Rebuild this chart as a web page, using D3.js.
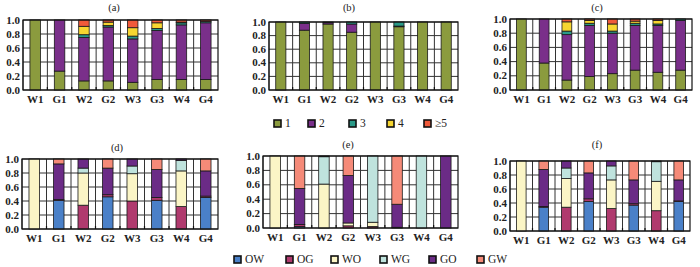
<!DOCTYPE html>
<html>
<head>
<meta charset="utf-8">
<script src="https://cdn.jsdelivr.net/npm/d3@7"></script>
<style>
body { margin:0; background:#fff; }
</style>
</head>
<body>
<svg id="chart" width="700" height="267"></svg>
<script>
var categories = ["W1","G1","W2","G2","W3","G3","W4","G4"];
var yTicks = [0, 0.2, 0.4, 0.6, 0.8, 1.0];

// top row: share of 1,2,3,4,>=5
var keysTop = ["1","2","3","4","≥5"];
var panelA = [
    [1.00, 0.00, 0.00, 0.00, 0.00],
    [0.27, 0.73, 0.00, 0.00, 0.00],
    [0.13, 0.62, 0.04, 0.12, 0.09],
    [0.13, 0.77, 0.02, 0.05, 0.03],
    [0.11, 0.62, 0.04, 0.12, 0.11],
    [0.15, 0.70, 0.03, 0.08, 0.04],
    [0.15, 0.78, 0.03, 0.01, 0.03],
    [0.15, 0.81, 0.02, 0.00, 0.02]
];
var panelB = [
    [1.00, 0.00, 0.00, 0.00, 0.00],
    [0.88, 0.10, 0.02, 0.00, 0.00],
    [0.97, 0.02, 0.01, 0.00, 0.00],
    [0.85, 0.12, 0.03, 0.00, 0.00],
    [1.00, 0.00, 0.00, 0.00, 0.00],
    [0.93, 0.01, 0.06, 0.00, 0.00],
    [1.00, 0.00, 0.00, 0.00, 0.00],
    [1.00, 0.00, 0.00, 0.00, 0.00]
];
var panelC = [
    [1.00, 0.00, 0.00, 0.00, 0.00],
    [0.38, 0.62, 0.00, 0.00, 0.00],
    [0.14, 0.64, 0.05, 0.13, 0.04],
    [0.19, 0.72, 0.03, 0.04, 0.02],
    [0.23, 0.57, 0.03, 0.10, 0.07],
    [0.28, 0.63, 0.03, 0.03, 0.03],
    [0.25, 0.66, 0.02, 0.05, 0.02],
    [0.28, 0.70, 0.02, 0.00, 0.00]
];

// bottom row: transition types
var keysBottom = ["OW","OG","WO","WG","GO","GW"];
var panelD = [
    [0.00, 0.00, 1.00, 0.00, 0.00, 0.00],
    [0.41, 0.01, 0.00, 0.00, 0.51, 0.07],
    [0.00, 0.34, 0.46, 0.07, 0.13, 0.00],
    [0.46, 0.03, 0.00, 0.00, 0.38, 0.13],
    [0.00, 0.40, 0.39, 0.11, 0.10, 0.00],
    [0.41, 0.04, 0.00, 0.00, 0.40, 0.15],
    [0.00, 0.32, 0.51, 0.15, 0.02, 0.00],
    [0.45, 0.02, 0.00, 0.00, 0.36, 0.17]
];
var panelE = [
    [0.00, 0.00, 1.00, 0.00, 0.00, 0.00],
    [0.02, 0.03, 0.00, 0.00, 0.50, 0.45],
    [0.00, 0.00, 0.61, 0.38, 0.01, 0.00],
    [0.00, 0.03, 0.04, 0.00, 0.66, 0.27],
    [0.00, 0.02, 0.06, 0.92, 0.00, 0.00],
    [0.00, 0.01, 0.00, 0.00, 0.32, 0.67],
    [0.00, 0.00, 0.00, 1.00, 0.00, 0.00],
    [0.00, 0.00, 0.00, 0.00, 1.00, 0.00]
];
var panelF = [
    [0.00, 0.00, 1.00, 0.00, 0.00, 0.00],
    [0.34, 0.01, 0.00, 0.00, 0.53, 0.12],
    [0.00, 0.34, 0.41, 0.15, 0.10, 0.00],
    [0.42, 0.04, 0.00, 0.00, 0.37, 0.17],
    [0.00, 0.32, 0.41, 0.20, 0.07, 0.00],
    [0.37, 0.02, 0.00, 0.00, 0.34, 0.27],
    [0.00, 0.29, 0.42, 0.28, 0.01, 0.00],
    [0.42, 0.01, 0.00, 0.00, 0.30, 0.27]
];

var colorsTop = ["#8b9b3e","#7a2f8a","#2a9a88","#f7d630","#f05a3a"];
var colorsBottom = ["#4a80c8","#b03a6e","#fbf5c6","#bfe3dd","#6b2b86","#f58a78"];
var FONT = "Liberation Serif";

var svg = d3.select('#chart');

// panel boxes: left, right, top, bottom
var panels = [
    {label:"(a)", data:panelA, keys:keysTop, colors:colorsTop, x0:23,  x1:218, y0:20,  y1:90,  tx:114, ty:11},
    {label:"(b)", data:panelB, keys:keysTop, colors:colorsTop, x0:269, x1:458, y0:22,  y1:90,  tx:349, ty:11},
    {label:"(c)", data:panelC, keys:keysTop, colors:colorsTop, x0:510, x1:692, y0:19,  y1:90,  tx:597, ty:11},
    {label:"(d)", data:panelD, keys:keysBottom, colors:colorsBottom, x0:22,  x1:218, y0:159, y1:229, tx:117, ty:151},
    {label:"(e)", data:panelE, keys:keysBottom, colors:colorsBottom, x0:263, x1:458, y0:156, y1:228, tx:348, ty:148},
    {label:"(f)", data:panelF, keys:keysBottom, colors:colorsBottom, x0:510, x1:690, y0:161, y1:231, tx:597, ty:148}
];

panels.forEach(function(p){
    var rows = p.data.map(function(r, i){
        var o = {cat: categories[i]};
        p.keys.forEach(function(k, j){ o[k] = r[j]; });
        return o;
    });
    var x = d3.scaleBand().domain(categories).range([p.x0, p.x1]).padding(0);
    var y = d3.scaleLinear().domain([0, 1]).range([p.y1, p.y0]);
    var color = d3.scaleOrdinal().domain(p.keys).range(p.colors);
    var barW = x.bandwidth() * 0.43;

    var g = svg.append('g');

    // grid
    g.selectAll('.hgrid').data(yTicks).enter().append('line')
        .attr('x1', p.x0).attr('x2', p.x1)
        .attr('y1', function(d){ return y(d); }).attr('y2', function(d){ return y(d); })
        .attr('stroke', '#333').attr('stroke-width', 1);
    var vx = [];
    categories.forEach(function(c){ vx.push(x(c)); vx.push(x(c) + x.bandwidth()/2); });
    g.selectAll('.vgrid').data(vx).enter().append('line')
        .attr('x1', function(d){ return d; }).attr('x2', function(d){ return d; })
        .attr('y1', p.y0).attr('y2', p.y1)
        .attr('stroke', '#333').attr('stroke-width', 1);

    // bars
    var series = d3.stack().keys(p.keys)(rows);
    g.selectAll('.layer').data(series).enter().append('g')
        .attr('fill', function(d){ return color(d.key); })
      .selectAll('rect').data(function(d){ return d.filter(function(v){ return v[1] - v[0] > 0.0001; }); })
      .enter().append('rect')
        .attr('x', function(d){ return x(d.data.cat) + x.bandwidth()/2 - barW/2; })
        .attr('y', function(d){ return y(d[1]); })
        .attr('width', barW)
        .attr('height', function(d){ return y(d[0]) - y(d[1]); })
        .attr('stroke', '#1a1a1a').attr('stroke-width', 0.8);

    // small ticks at the bottom between bars
    g.selectAll('.tk').data(categories.slice(1)).enter().append('line')
        .attr('x1', function(d){ return x(d); }).attr('x2', function(d){ return x(d); })
        .attr('y1', p.y1).attr('y2', p.y1 - 3)
        .attr('stroke', '#111').attr('stroke-width', 1.2);

    // frame
    g.append('rect').attr('x', p.x0).attr('y', p.y0)
        .attr('width', p.x1 - p.x0).attr('height', p.y1 - p.y0)
        .attr('fill', 'none').attr('stroke', '#111').attr('stroke-width', 1.2);

    // axes labels
    g.selectAll('.yl').data(yTicks).enter().append('text')
        .attr('x', p.x0 - 3).attr('y', function(d){ return y(d) + 3.5; })
        .attr('text-anchor', 'end').attr('font-family', FONT)
        .attr('font-size', 11).attr('font-weight', 'bold').attr('fill', '#222')
        .text(function(d){ return d3.format('.1f')(d); });
    g.selectAll('.xl').data(categories).enter().append('text')
        .attr('x', function(d){ return x(d) + x.bandwidth()/2; }).attr('y', p.y1 + 13)
        .attr('text-anchor', 'middle').attr('font-family', FONT)
        .attr('font-size', 11).attr('font-weight', 'bold').attr('fill', '#222')
        .text(function(d){ return d; });

    g.append('text').attr('x', p.tx).attr('y', p.ty)
        .attr('text-anchor', 'middle').attr('font-family', FONT)
        .attr('font-size', 10.5).attr('fill', '#222')
        .text(p.label);
});

// legends
function legend(keys, colors, xs, ly){
    var lg = svg.append('g');
    var it = lg.selectAll('g').data(keys).enter().append('g')
        .attr('transform', function(d, i){ return 'translate(' + xs[i] + ',' + ly + ')'; });
    it.append('rect').attr('x', 0).attr('y', -7).attr('width', 7).attr('height', 7)
        .attr('fill', function(d, i){ return colors[i]; })
        .attr('stroke', '#111').attr('stroke-width', 1.6);
    it.append('text').attr('x', 11).attr('y', 0)
        .attr('font-family', FONT).attr('font-size', 11.5).attr('fill', '#222')
        .text(function(d){ return d; });
}
legend(keysTop, colorsTop, [274, 308, 349, 387, 424], 127);
legend(keysBottom, colorsBottom, [234, 286, 331, 380, 429, 477], 263);
</script>
</body>
</html>
